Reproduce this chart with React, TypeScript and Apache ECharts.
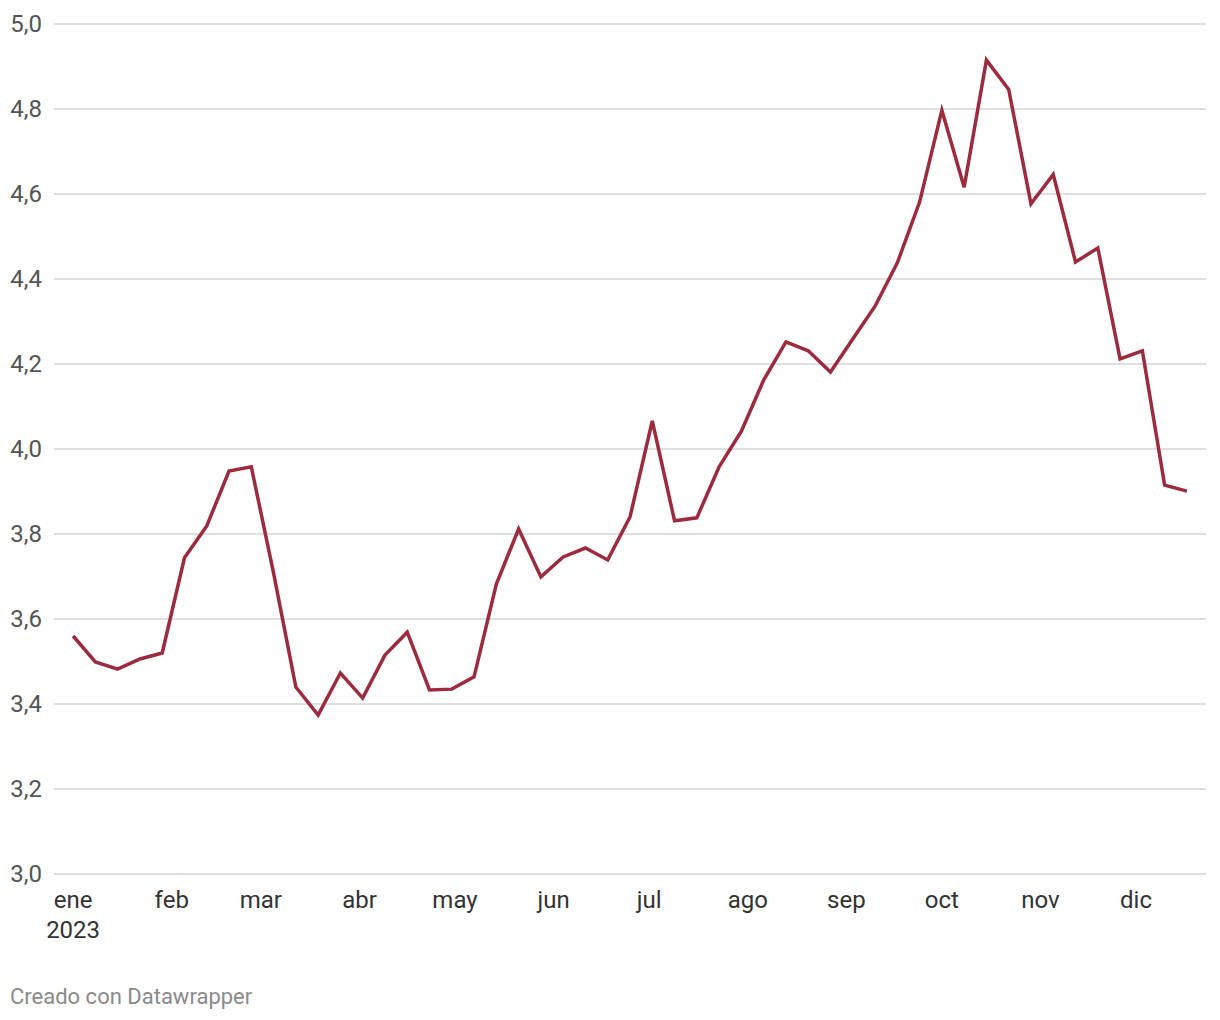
import React, { useEffect, useRef } from "react";
import * as echarts from "echarts";

const dates = [
  "2023-01-01", "2023-01-08", "2023-01-15", "2023-01-22", "2023-01-29",
  "2023-02-05", "2023-02-12", "2023-02-19", "2023-02-26",
  "2023-03-05", "2023-03-12", "2023-03-19", "2023-03-26",
  "2023-04-02", "2023-04-09", "2023-04-16", "2023-04-23", "2023-04-30",
  "2023-05-07", "2023-05-14", "2023-05-21", "2023-05-28",
  "2023-06-04", "2023-06-11", "2023-06-18", "2023-06-25",
  "2023-07-02", "2023-07-09", "2023-07-16", "2023-07-23", "2023-07-30",
  "2023-08-06", "2023-08-13", "2023-08-20", "2023-08-27",
  "2023-09-03", "2023-09-10", "2023-09-17", "2023-09-24",
  "2023-10-01", "2023-10-08", "2023-10-15", "2023-10-22", "2023-10-29",
  "2023-11-05", "2023-11-12", "2023-11-19", "2023-11-26",
  "2023-12-03", "2023-12-10", "2023-12-17",
];

const values = [
  3.56, 3.499, 3.482, 3.506, 3.52,
  3.744, 3.819, 3.948, 3.958,
  3.708, 3.44, 3.374, 3.473,
  3.414, 3.515, 3.569, 3.433, 3.435,
  3.464, 3.682, 3.812, 3.699,
  3.746, 3.767, 3.739, 3.84,
  4.066, 3.831, 3.838, 3.958, 4.042,
  4.162, 4.252, 4.231, 4.181,
  4.259, 4.336, 4.438, 4.581,
  4.797, 4.616, 4.915, 4.846, 4.577,
  4.646, 4.44, 4.473, 4.212,
  4.231, 3.915, 3.901,
];

const monthLabels = ["ene", "feb", "mar", "abr", "may", "jun", "jul", "ago", "sep", "oct", "nov", "dic"];
const monthStarts = [
  "2023-01-01", "2023-02-01", "2023-03-01", "2023-04-01", "2023-05-01", "2023-06-01",
  "2023-07-01", "2023-08-01", "2023-09-01", "2023-10-01", "2023-11-01", "2023-12-01",
];

const yMin = 3.0;
const yMax = 5.0;
const yStep = 0.2;

const DAY = 86400000;

function toDayNum(s: string): number {
  const [y, m, d] = s.split("-").map(Number);
  return Math.round(Date.UTC(y, m - 1, d) / DAY);
}

export default function App() {
  const ref = useRef<HTMLDivElement>(null);

  useEffect(() => {
    if (!ref.current) return;
    const chart = echarts.init(ref.current, undefined, { renderer: "svg" });
    const monthDays = monthStarts.map(toDayNum);
    const data = dates.map((d, i) => [toDayNum(d), values[i]]);

    chart.setOption({
      animation: false,
      backgroundColor: "#ffffff",
      textStyle: { fontFamily: "Roboto" },
      title: {
        text: "Creado con Datawrapper",
        left: 5,
        top: 980,
        textStyle: { fontFamily: "Roboto", fontSize: 22, fontWeight: "normal", color: "#8a8a8a" },
      },
      grid: { left: 54, right: 14, top: 24, bottom: 146, containLabel: false },
      xAxis: {
        type: "value",
        min: toDayNum("2022-12-26"),
        max: toDayNum("2023-12-23"),
        axisLine: { show: false },
        axisTick: { show: false },
        splitLine: { show: false },
        axisLabel: {
          customValues: monthDays,
          showMinLabel: true,
          showMaxLabel: true,
          color: "#333333",
          fontSize: 24,
          fontFamily: "Roboto",
          lineHeight: 30,
          margin: 11,
          verticalAlign: "top",
          formatter: (v: number) => {
            const idx = monthDays.indexOf(v);
            if (idx < 0) return "";
            return idx === 0 ? monthLabels[0] + "\n2023" : monthLabels[idx];
          },
        },
      },
      yAxis: {
        type: "value",
        min: yMin,
        max: yMax,
        interval: yStep,
        axisLine: { show: false },
        axisTick: { show: false },
        splitLine: { show: true, lineStyle: { color: "#d6d6d6", width: 1.5 } },
        axisLabel: {
          color: "#555555",
          fontSize: 24,
          fontFamily: "Roboto",
          margin: 12,
          formatter: (v: number) => v.toFixed(1).replace(".", ","),
        },
      },
      series: [
        {
          type: "line",
          data,
          showSymbol: false,
          symbol: "none",
          lineStyle: { color: "#9d2b3e", width: 3.5, join: "miter" },
          itemStyle: { color: "#9d2b3e" },
        },
      ],
    });

    return () => chart.dispose();
  }, []);

  return (
    <div
      ref={ref}
      style={{ position: "fixed", left: 0, top: 0, width: 1220, height: 1020, background: "#fff" }}
    />
  );
}
